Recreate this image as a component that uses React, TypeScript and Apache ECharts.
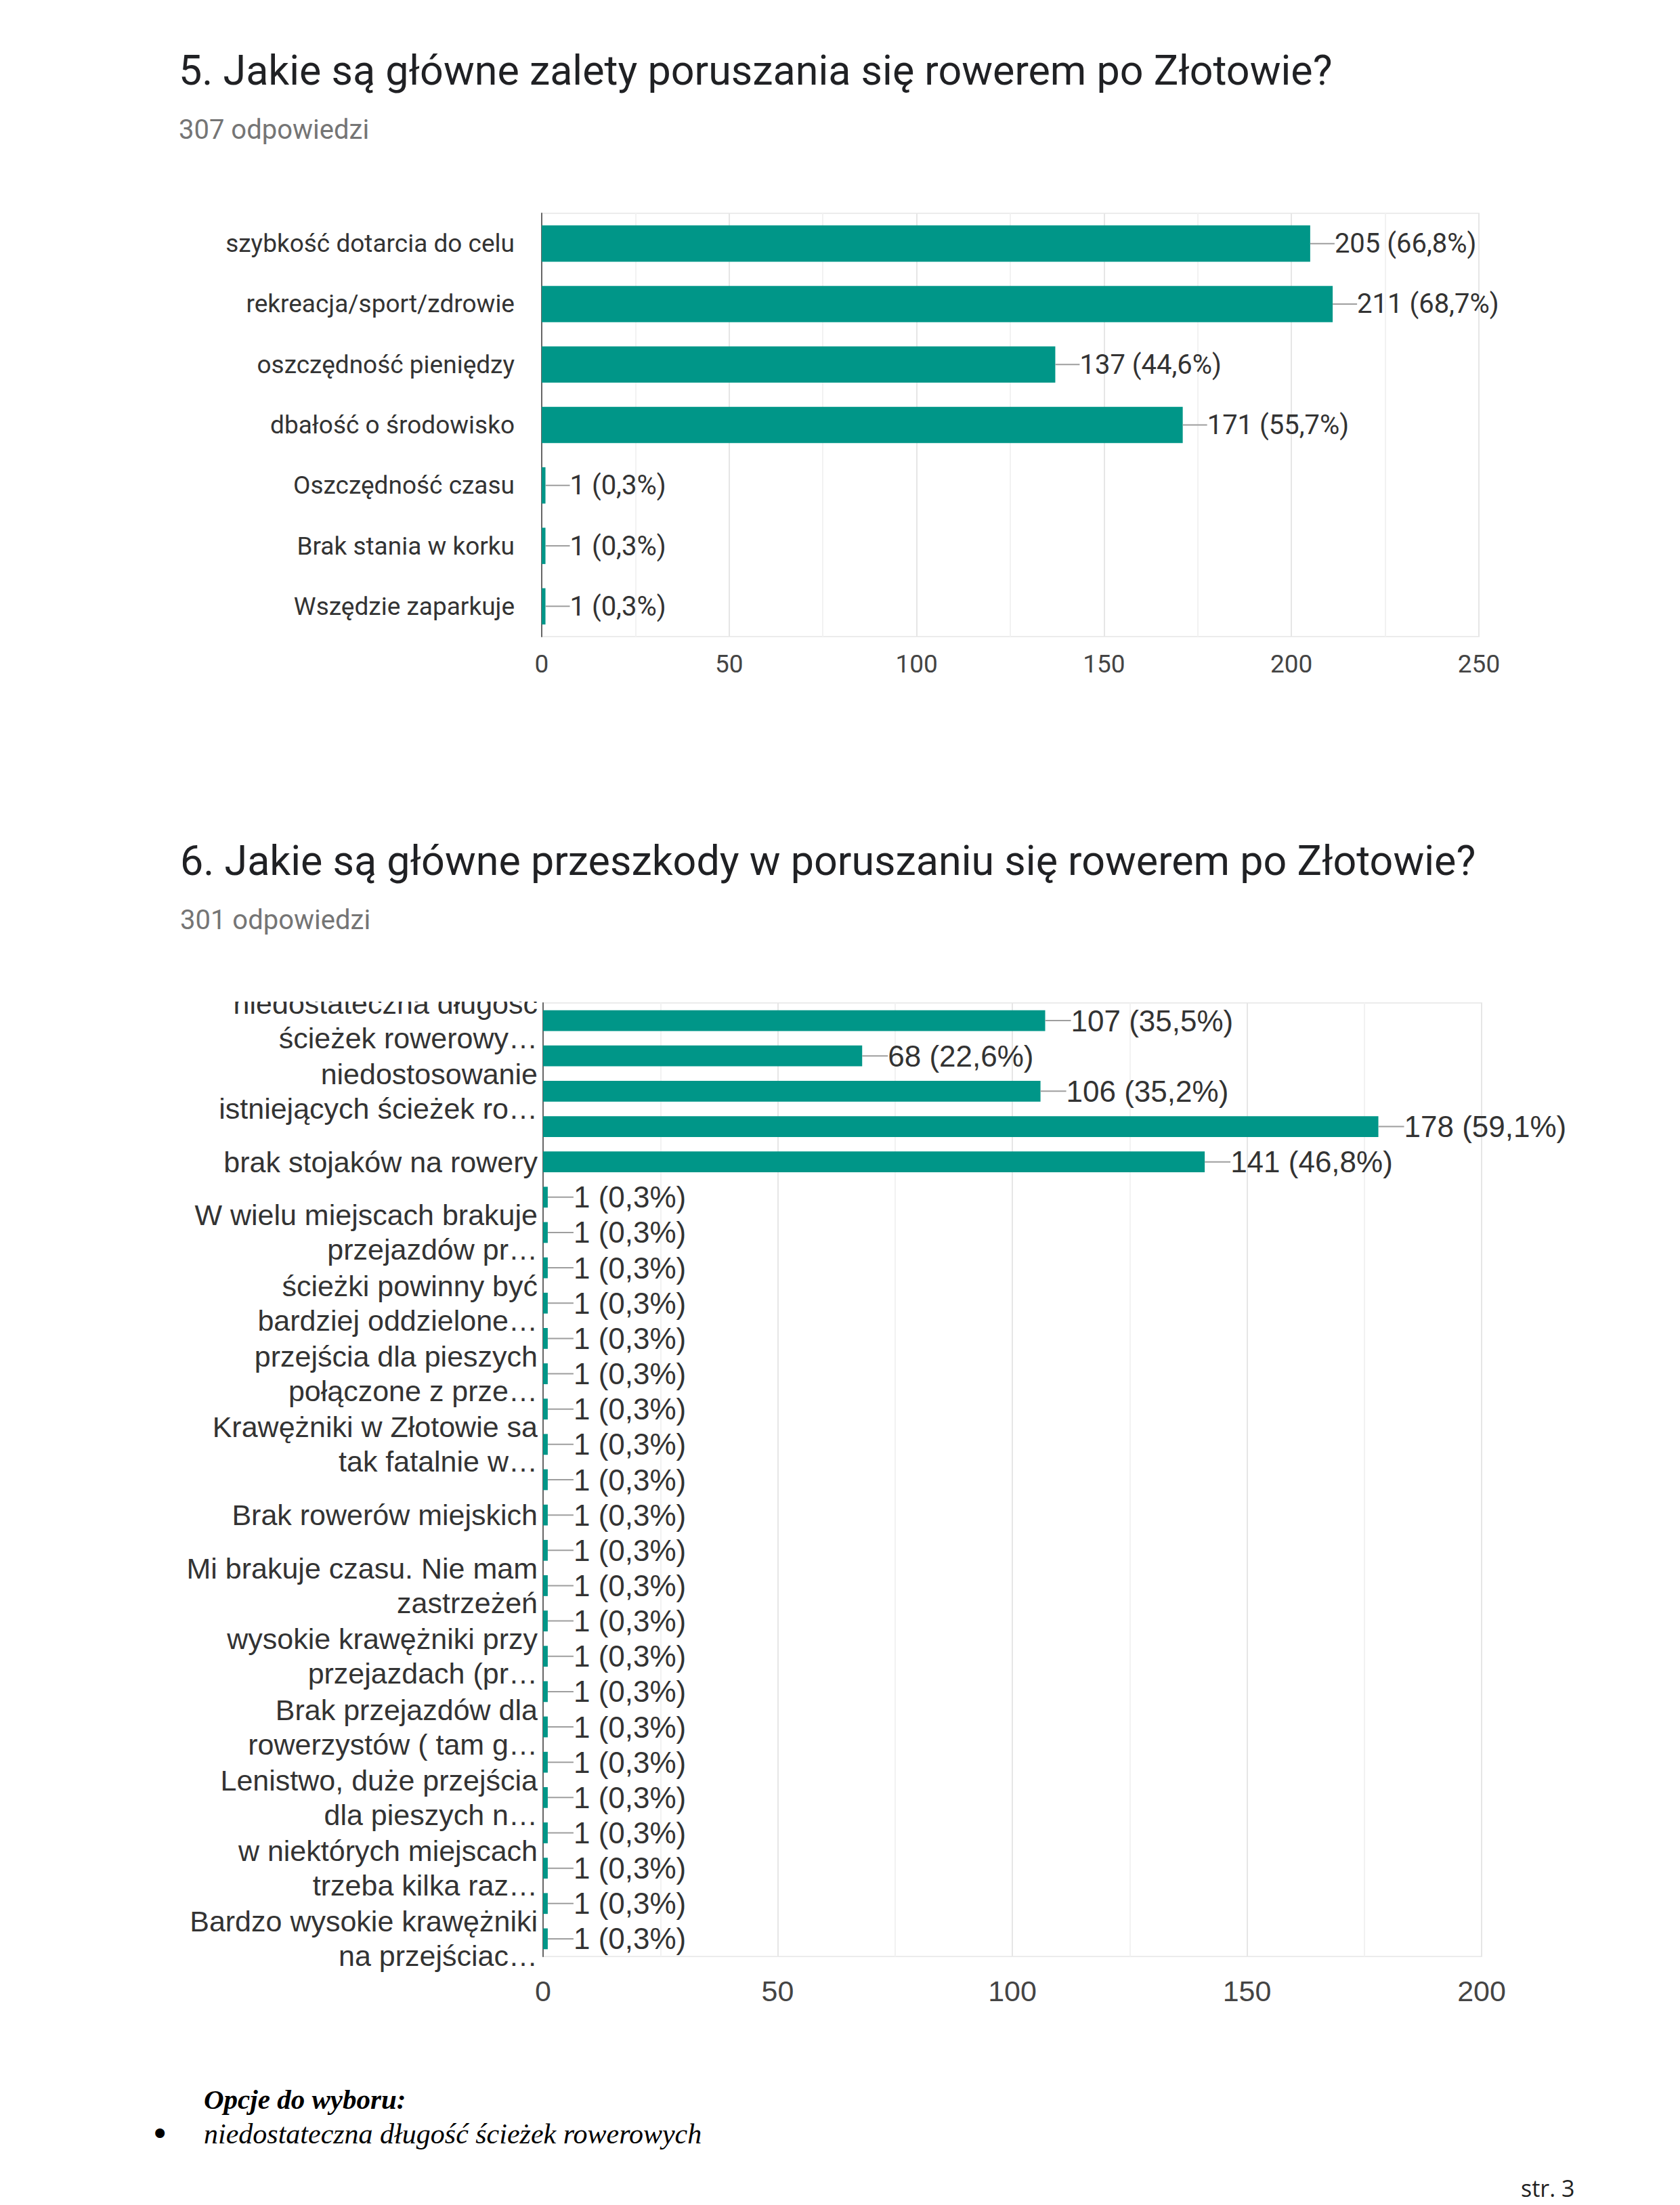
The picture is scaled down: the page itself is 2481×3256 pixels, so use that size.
import React, { useEffect, useRef } from "react";
import * as echarts from "echarts";

// ---------- Data ----------
const q5Title = "5. Jakie są główne zalety poruszania się rowerem po Złotowie?";
const q5Responses = "307 odpowiedzi";
const q5Categories = [
  "szybkość dotarcia do celu",
  "rekreacja/sport/zdrowie",
  "oszczędność pieniędzy",
  "dbałość o środowisko",
  "Oszczędność czasu",
  "Brak stania w korku",
  "Wszędzie zaparkuje",
];
const q5Values = [205, 211, 137, 171, 1, 1, 1];
const q5Percents = ["66,8%", "68,7%", "44,6%", "55,7%", "0,3%", "0,3%", "0,3%"];

const q6Title = "6. Jakie są główne przeszkody w poruszaniu się rowerem po Złotowie?";
const q6Responses = "301 odpowiedzi";
// Every other label is hidden in the original (odd indices are not displayed).
const q6Categories = [
  "niedostateczna długość\nścieżek rowerowy…",
  "zły stan\nścieżek rowerowych",
  "niedostosowanie\nistniejących ścieżek ro…",
  "brak bezpieczeństwa\nna drogach",
  "brak stojaków na rowery",
  "odpowiedź 6",
  "W wielu miejscach brakuje\nprzejazdów pr…",
  "odpowiedź 8",
  "ścieżki powinny być\nbardziej oddzielone…",
  "odpowiedź 10",
  "przejścia dla pieszych\npołączone z prze…",
  "odpowiedź 12",
  "Krawężniki w Złotowie sa\ntak fatalnie w…",
  "odpowiedź 14",
  "Brak rowerów miejskich",
  "odpowiedź 16",
  "Mi brakuje czasu. Nie mam\nzastrzeżeń",
  "odpowiedź 18",
  "wysokie krawężniki przy\nprzejazdach (pr…",
  "odpowiedź 20",
  "Brak przejazdów dla\nrowerzystów ( tam g…",
  "odpowiedź 22",
  "Lenistwo, duże przejścia\ndla pieszych n…",
  "odpowiedź 24",
  "w niektórych miejscach\ntrzeba kilka raz…",
  "odpowiedź 26",
  "Bardzo wysokie krawężniki\nna przejściac…",
];
const q6Values = [
  107, 68, 106, 178, 141, 1, 1, 1, 1, 1, 1, 1, 1, 1, 1, 1, 1, 1, 1, 1, 1, 1, 1, 1, 1, 1, 1,
];
const q6Percents = [
  "35,5%", "22,6%", "35,2%", "59,1%", "46,8%",
  "0,3%", "0,3%", "0,3%", "0,3%", "0,3%", "0,3%", "0,3%", "0,3%", "0,3%", "0,3%", "0,3%",
  "0,3%", "0,3%", "0,3%", "0,3%", "0,3%", "0,3%", "0,3%", "0,3%", "0,3%", "0,3%", "0,3%",
];

const footerHeading = "Opcje do wyboru:";
const footerItems = ["niedostateczna długość ścieżek rowerowych"];
const pageLabel = "str. 3";

// ---------- Styles ----------
const TEAL = "#009688";
const F1 = "Roboto";
const F2 = "'Liberation Sans', Arial";

function buildOption() {
  const valueAxis = (grid: number, max: number, fontFamily: string, fontSize: number, margin: number) => ({
    gridIndex: grid,
    type: "value",
    min: 0,
    max,
    interval: 50,
    axisLine: { show: false },
    axisTick: { show: false },
    splitLine: { show: true, lineStyle: { color: "#e6e6e6", width: 2 } },
    minorTick: { show: false, splitNumber: 2 },
    minorSplitLine: { show: true, lineStyle: { color: "#f2f2f2", width: 2 } },
    axisLabel: { margin, fontFamily, fontSize, color: "#444" },
  });

  return {
    animation: false,
    backgroundColor: "#ffffff",
    title: [
      { text: q5Title, left: 264, top: 73, padding: 0, textStyle: { fontFamily: F1, fontSize: 61, fontWeight: "normal", color: "#202124" } },
      { text: q5Responses, left: 264, top: 171, padding: 0, textStyle: { fontFamily: F1, fontSize: 40, fontWeight: "normal", color: "#757575" } },
      { text: q6Title, left: 266, top: 1240, padding: 0, textStyle: { fontFamily: F1, fontSize: 61, fontWeight: "normal", color: "#202124" } },
      { text: q6Responses, left: 266, top: 1338, padding: 0, textStyle: { fontFamily: F1, fontSize: 40, fontWeight: "normal", color: "#757575" } },
    ],
    grid: [
      { left: 800, top: 315, width: 1384, height: 625, show: true, borderColor: "#ececec", borderWidth: 2 },
      { left: 802, top: 1481, width: 1386, height: 1408, show: true, borderColor: "#ececec", borderWidth: 2 },
    ],
    xAxis: [valueAxis(0, 250, F1, 37, 22), valueAxis(1, 200, F2, 43, 29)],
    yAxis: [
      {
        gridIndex: 0,
        type: "category",
        data: q5Categories,
        inverse: true,
        axisLine: { show: true, lineStyle: { color: "#666", width: 2 } },
        axisTick: { show: false },
        splitLine: { show: false },
        axisLabel: { margin: 40, fontFamily: F1, fontSize: 37, color: "#333" },
      },
      {
        gridIndex: 1,
        type: "category",
        data: q6Categories,
        inverse: true,
        axisLine: { show: true, lineStyle: { color: "#666", width: 2 } },
        axisTick: { show: false },
        splitLine: { show: false },
        axisLabel: {
          interval: 1,
          showMinLabel: true,
          showMaxLabel: true,
          hideOverlap: false,
          margin: 8,
          fontFamily: F2,
          fontSize: 43,
          lineHeight: 51,
          color: "#333",
        },
      },
    ],
    series: [
      {
        type: "bar",
        xAxisIndex: 0,
        yAxisIndex: 0,
        data: q5Values,
        barCategoryGap: "40%",
        itemStyle: { color: TEAL },
        label: {
          show: true,
          position: "right",
          distance: 0,
          formatter: (p: any) => `{s|\u00a0}{v|${p.value} (${q5Percents[p.dataIndex]})}`,
          rich: {
            s: { width: 36, height: 2, backgroundColor: "#9e9e9e", fontSize: 2 },
            v: { fontFamily: F1, fontSize: 40, color: "#333" },
          },
        },
      },
      {
        type: "bar",
        xAxisIndex: 1,
        yAxisIndex: 1,
        data: q6Values,
        barCategoryGap: "41%",
        itemStyle: { color: TEAL },
        label: {
          show: true,
          position: "right",
          distance: 0,
          formatter: (p: any) => `{s|\u00a0}{v|${p.value} (${q6Percents[p.dataIndex]})}`,
          rich: {
            s: { width: 38, height: 2, backgroundColor: "#9e9e9e", fontSize: 2 },
            v: { fontFamily: F2, fontSize: 44, color: "#333" },
          },
        },
      },
    ],
    graphic: [
      // clip the top line of the first category label like the original screenshot
      { type: "rect", z: 100, shape: { x: 250, y: 1420, width: 548, height: 59 }, style: { fill: "#ffffff" } },
      {
        type: "text",
        x: 301,
        y: 3100,
        style: {
          text: footerHeading,
          fontFamily: "'Liberation Serif', serif",
          fontStyle: "italic",
          fontWeight: "bold",
          fontSize: 41,
          fill: "#000",
          verticalAlign: "middle",
        },
      },
      {
        type: "text",
        x: 222,
        y: 3151,
        style: { text: "•", fontFamily: "'DejaVu Sans'", fontSize: 48, fill: "#000", verticalAlign: "middle" },
      },
      ...footerItems.map((t, i) => ({
        type: "text",
        x: 301,
        y: 3151 + i * 50,
        style: {
          text: t,
          fontFamily: "'Liberation Serif', serif",
          fontStyle: "italic",
          fontSize: 42,
          fill: "#000",
          verticalAlign: "middle",
        },
      })),
      {
        type: "text",
        x: 2246,
        y: 3231,
        style: { text: pageLabel, fontFamily: "'Open Sans'", fontSize: 34, fill: "#222", verticalAlign: "middle" },
      },
    ],
  };
}

export default function App() {
  const ref = useRef<HTMLDivElement>(null);
  useEffect(() => {
    if (!ref.current) return;
    const chart = echarts.init(ref.current, undefined, { renderer: "svg" });
    chart.setOption(buildOption() as any);
    return () => chart.dispose();
  }, []);
  return (
    <div
      ref={ref}
      style={{ position: "absolute", left: 0, top: 0, width: 2481, height: 3256, background: "#fff" }}
    />
  );
}
